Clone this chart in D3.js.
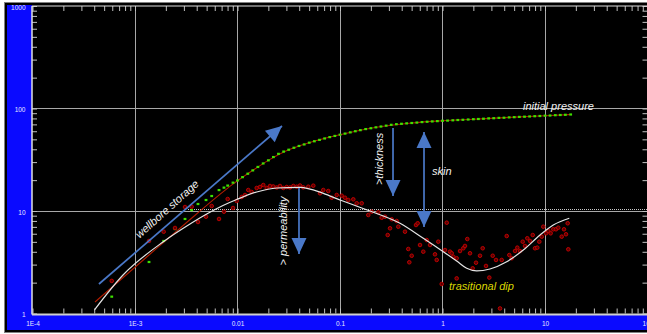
<!DOCTYPE html>
<html>
<head>
<meta charset="utf-8">
<script src="https://cdn.jsdelivr.net/npm/d3@7/dist/d3.min.js"></script>
<style>
  html, body { margin: 0; padding: 0; background: #fff; overflow: hidden; }
  svg { display: block; }
  text { font-family: "Liberation Sans", Arial, sans-serif; }
</style>
</head>
<body>
<svg id="chart" width="647" height="334"></svg>
<script>
// ---- Pressure change (measured points) ----
const pressureTime = [
  5.93e-4, 1.37e-3, 1.905e-3, 2.457e-3, 3.075e-3, 3.573e-3, 4.117e-3, 4.929e-3, 5.60e-3, 6.60e-3, 7.38e-3, 8.02e-3, 9.04e-3,
  0.01, 0.0112, 0.0126, 0.0141, 0.0158, 0.0178, 0.02, 0.0224, 0.0251, 0.0282, 0.0316, 0.0355, 0.0398, 0.0447, 0.0501, 0.0562, 0.0631, 0.0708, 0.0794, 0.0891,
  0.1, 0.112, 0.126, 0.141, 0.158, 0.178, 0.2, 0.224, 0.251, 0.282, 0.316, 0.355, 0.398, 0.447, 0.501, 0.562, 0.631, 0.708, 0.794, 0.891,
  1, 1.12, 1.26, 1.41, 1.58, 1.78, 2, 2.24, 2.51, 2.82, 3.16, 3.55, 3.98, 4.47, 5.01, 5.62, 6.31, 7.08, 7.94, 8.91,
  10, 11.2, 12.6, 14.1, 15.8, 17.8
];
const pressureValue = [
  1.46, 3.18, 5.10, 6.67, 8.36, 10.2, 11.7, 12.8, 14.0, 16.0, 16.9, 17.7, 18.9,
  19.85, 21.4, 23.1, 24.9, 26.9, 29.1, 31.2, 33.6, 36.1, 38.0, 39.6, 41.4, 43.1, 44.6, 46.4, 47.9, 49.4, 51.0, 52.6, 54.0,
  55.5, 56.9, 58.5, 60.0, 61.5, 63.0, 64.2, 65.5, 66.7, 68.0, 69.3, 70.3, 70.9, 71.6, 72.2, 72.9, 73.7, 74.3, 74.8, 75.3,
  75.9, 76.2, 76.7, 77.2, 77.6, 78.1, 78.6, 79.0, 79.5, 80.1, 80.4, 81.0, 81.3, 81.9, 82.3, 82.8, 83.2, 83.6, 84.1, 84.5,
  85.1, 85.4, 86.0, 86.4, 86.8, 87.4
];

// ---- Pressure change (model) ----
const modelPressureTime  = [4.07e-4, 1.37e-3, 3.07e-3, 6.6e-3, 9.03e-3, 0.0141, 0.02, 0.0316, 0.05, 0.1, 0.2, 0.5, 1, 2, 5, 10, 17.8];
const modelPressureValue = [1.295, 3.72, 7.47, 14.3, 18.3, 24.9, 31.2, 39.6, 46.4, 55.5, 64.2, 72.2, 75.9, 78.6, 82.3, 85.1, 87.4];

// ---- Pressure derivative (measured points) ----
const derivTime = [
  5.93e-4, 1.37e-3, 1.905e-3, 2.457e-3, 3.075e-3, 3.573e-3, 4.117e-3, 4.929e-3, 5.60e-3, 6.60e-3, 7.38e-3, 8.02e-3, 9.04e-3, 9.82e-3,
  0.01099, 0.01183, 0.01274, 0.01375, 0.01539, 0.01658, 0.01785, 0.01927, 0.02075, 0.02235, 0.02412, 0.02598, 0.02798, 0.0302, 0.03253, 0.03503, 0.03781, 0.04073, 0.04385, 0.04906, 0.05489,
  0.0638, 0.0687, 0.07688, 0.08299, 0.09286, 0.1039, 0.1119, 0.1205, 0.1348, 0.1455, 0.1628,
  0.1888, 0.2038, 0.2364, 0.2551, 0.2748, 0.292, 0.3076, 0.3194, 0.3573, 0.3705, 0.4306, 0.4637, 0.4743, 0.5006,
  0.5514, 0.5728, 0.6034, 0.6497, 0.7012, 0.7551, 0.8448, 0.878, 0.91, 0.982,
  1.058, 1.099, 1.184, 1.23, 1.275, 1.375, 1.375, 1.482, 1.596, 1.658, 1.746, 1.855, 1.971, 2.123, 2.322, 2.467, 2.657, 2.862, 3.089, 3.327,
  3.639, 3.781, 4.23, 4.485, 4.733, 5.1, 5.37, 5.7, 6.06, 6.38,
  6.72, 7.14, 7.59, 7.99, 8.41, 8.8, 9.29, 9.62, 10.23, 10.77,
  11.36, 12.05, 12.8, 13.48, 14.55, 15.32, 16.03, 16.65, 16.88
];
const derivValue = [
  2.08, 5.10, 6.28, 6.83, 10.94, 11.01, 7.81, 8.80, 11.19, 8.36, 9.84, 13.09, 10.70, 12.52,
  13.70, 14.33, 16.03, 15.32, 16.77, 17.15, 17.93, 16.77, 17.54, 17.35, 16.96, 17.54, 16.77, 17.15, 16.96, 17.54, 17.26, 17.73, 17.0, 17.26, 17.66,
  14.89, 16.03, 15.67, 13.48, 14.33, 14.10, 13.48, 12.80, 13.0, 11.89, 11.89,
  9.14, 9.84, 9.71, 8.60, 8.80, 5.83, 6.78, 8.30, 7.99, 7.03, 6.28, 4.26, 3.16, 3.66,
  7.30, 7.59, 4.66, 4.01, 5.21, 4.66, 3.78, 3.33, 5.02, 1.94,
  4.16, 7.69, 4.01, 3.87, 3.58, 3.46, 2.20, 4.07, 4.33, 4.56, 5.33, 3.87, 2.76, 3.13, 3.66, 4.33, 2.91, 2.24, 3.66, 3.33,
  1.12, 3.33, 5.70, 3.72, 3.46, 4.07, 4.39, 4.07, 5.02, 4.56,
  5.42, 5.10, 5.83, 4.33, 4.39, 5.02, 5.62, 7.03, 6.06, 6.38,
  6.06, 6.63, 6.63, 6.87, 5.62, 6.63, 5.93, 7.59, 4.23
];

// ---- Pressure derivative (model) ----
const modelDerivTime  = [4.01e-4, 7.64e-4, 1.875e-3, 3.44e-3, 5.01e-3, 7.22e-3, 9.82e-3, 0.01539, 0.02412, 0.04074, 0.0687, 0.1, 0.1963, 0.3848, 0.6497, 1.018, 1.375, 1.722, 2.157, 2.907, 4.23, 6.14, 8.94, 12.05, 17.26];
const modelDerivValue = [1.08, 2.375, 4.99, 7.47, 9.35, 11.32, 12.95, 15.32, 16.77, 17.03, 14.88, 12.8, 10.0, 7.59, 5.42, 4.01, 3.25, 2.76, 2.60, 2.72, 3.20, 4.16, 5.83, 7.30, 8.49];

// radial-flow stabilisation level (dotted)
const radialLevel = 10.4;
const radialStart = 3.29e-3;

// axis labels
const xTickLabels = ["1E-4", "1E-3", "0.01", "0.1", "1", "10", "100"];
const yTickLabels = ["1", "10", "100", "1000"];

// annotation arrows [t0, v0, t1, v1] (arrow head at the end point)
const arrowWellbore     = [4.45e-4, 1.94, 0.02716, 67.5];
const arrowPermeability = [0.0398, 16.77, 0.0398, 3.81];
const arrowThickness    = [0.329, 64.5, 0.329, 14.0];
const arrowSkin         = [0.66, 59.0, 0.66, 6.98];

// ---------------------------------------------------------------
const W = 647, H = 334;
const svg = d3.select("#chart");

const x = d3.scaleLog().domain([1e-4, 100]).range([32.5, 647.5]);
const y = d3.scaleLog().domain([1, 1000]).range([313.5, 6]);

// panel background
svg.append("rect").attr("width", W).attr("height", H).attr("fill", "#fff");
svg.append("rect").attr("x", 4.5).attr("y", 2.5).attr("width", W).attr("height", 330)
  .attr("fill", "#000").attr("stroke", "#808080").attr("stroke-width", 1);
svg.append("rect").attr("x", 7).attr("y", 5).attr("width", W).attr("height", 325).attr("fill", "#0a0aff");
svg.append("rect").attr("x", 32).attr("y", 4).attr("width", W).attr("height", 310).attr("fill", "#000");

const plot = svg.append("g");

// decade grid
const xDecades = d3.range(-3, 2).map(e => Math.pow(10, e));
const yDecades = [10, 100];
plot.selectAll("line.gx").data(xDecades).join("line")
  .attr("x1", d => Math.round(x(d)) + 0.5).attr("x2", d => Math.round(x(d)) + 0.5)
  .attr("y1", 6).attr("y2", 314)
  .attr("stroke", "#a8a8a8").attr("stroke-width", 1);
plot.selectAll("line.gy").data(yDecades).join("line")
  .attr("x1", 32).attr("x2", W)
  .attr("y1", d => Math.round(y(d)) + 0.5).attr("y2", d => Math.round(y(d)) + 0.5)
  .attr("stroke", "#a8a8a8").attr("stroke-width", 1);

// dotted stabilisation line
plot.append("line")
  .attr("x1", x(radialStart)).attr("x2", W)
  .attr("y1", Math.round(y(radialLevel)) + 0.5).attr("y2", Math.round(y(radialLevel)) + 0.5)
  .attr("stroke", "#c8c8c8").attr("stroke-width", 1).attr("stroke-dasharray", "1,1");

// tick values: every integer multiple inside each decade
function logTicks(e0, e1) {
  const out = [];
  for (let e = e0; e <= e1; e++) for (let k = 1; k <= 9; k++) {
    if (e === e1 && k > 1) break;
    out.push(k * Math.pow(10, e));
  }
  return out;
}
const xTicks = logTicks(-4, 2);
const yTicks = logTicks(0, 3);
const isDecade = d => Math.abs(Math.log10(d) - Math.round(Math.log10(d))) < 1e-9;

function styleAxis(g) {
  g.select(".domain").remove();
  g.selectAll(".tick line").attr("stroke", "#c0c0c0").attr("stroke-width", 1);
  g.selectAll(".tick text").attr("fill", "#e6e6ff").style("font-size", "6.5px");
}

svg.append("g").attr("transform", "translate(0,313.5)")
  .call(d3.axisBottom(x).tickValues(xTicks).tickSize(-5)
    .tickFormat(d => isDecade(d) ? xTickLabels[Math.round(Math.log10(d)) + 4] : ""))
  .call(styleAxis)
  .call(g => g.selectAll(".tick text").attr("y", 10).attr("dy", "0.35em"));

svg.append("g").attr("transform", "translate(0,6)")
  .call(d3.axisTop(x).tickValues(xTicks).tickSize(-5).tickFormat(""))
  .call(styleAxis);

svg.append("g").attr("transform", "translate(32,0)")
  .call(d3.axisLeft(y).tickValues(yTicks).tickSize(-5)
    .tickFormat(d => isDecade(d) ? yTickLabels[Math.round(Math.log10(d))] : ""))
  .call(styleAxis)
  .call(g => g.selectAll(".tick text").attr("x", -6.5).attr("dy", "0.5em"));

svg.append("g").attr("transform", "translate(647.5,0)")
  .call(d3.axisRight(y).tickValues(yTicks).tickSize(-5).tickFormat(""))
  .call(styleAxis);

// plot frame
svg.append("line").attr("x1", 32).attr("x2", 32).attr("y1", 6).attr("y2", 314.5)
  .attr("stroke", "#e0e0e0").attr("stroke-width", 1.5);
svg.append("line").attr("x1", 32).attr("x2", W).attr("y1", 6).attr("y2", 6)
  .attr("stroke", "#e0e0e0").attr("stroke-width", 1.2);
svg.append("line").attr("x1", 32).attr("x2", W).attr("y1", 314.5).attr("y2", 314.5)
  .attr("stroke", "#cfcfcf").attr("stroke-width", 2);

// ---- data series ----
const modelP = d3.zip(modelPressureTime, modelPressureValue);
const modelD = d3.zip(modelDerivTime, modelDerivValue);
const pts    = d3.zip(pressureTime, pressureValue);
const dpts   = d3.zip(derivTime, derivValue);

const line = d3.line().x(d => x(d[0])).y(d => y(d[1])).curve(d3.curveMonotoneX);

plot.append("path").datum(modelP).attr("d", line)
  .attr("fill", "none").attr("stroke", "#b01c00").attr("stroke-width", 1.1);

plot.selectAll("rect.p").data(pts).join("rect")
  .attr("x", d => x(d[0]) - 1.4).attr("y", d => y(d[1]) - 1.1)
  .attr("width", 2.8).attr("height", 2.2).attr("fill", "#3ee000");

plot.selectAll("circle.d").data(dpts).join("circle")
  .attr("cx", d => x(d[0])).attr("cy", d => y(d[1])).attr("r", 1.8)
  .attr("fill", "#5a0000").attr("stroke", "#c80000").attr("stroke-width", 0.9);

plot.append("path").datum(modelD).attr("d", line)
  .attr("fill", "none").attr("stroke", "#e4e4e4").attr("stroke-width", 1.2);

// ---- annotations ----
const arrowColor = "#4a78c8";
function arrowHead(px0, py0, px1, py1, len, half) {
  const dx = px1 - px0, dy = py1 - py0, L = Math.hypot(dx, dy);
  const ux = dx / L, uy = dy / L, nx = -uy, ny = ux;
  const bx = px1 - ux * len, by = py1 - uy * len;
  return [[px1, py1], [bx + nx * half, by + ny * half], [bx - nx * half, by - ny * half]];
}
function drawArrow(a, both) {
  const p0 = [x(a[0]), y(a[1])], p1 = [x(a[2]), y(a[3])];
  plot.append("line").attr("x1", p0[0]).attr("y1", p0[1]).attr("x2", p1[0]).attr("y2", p1[1])
    .attr("stroke", arrowColor).attr("stroke-width", 1.7);
  plot.append("polygon").attr("points", arrowHead(p0[0], p0[1], p1[0], p1[1], 16, 7.5).join(" "))
    .attr("fill", arrowColor);
  if (both) plot.append("polygon").attr("points", arrowHead(p1[0], p1[1], p0[0], p0[1], 16, 7.5).join(" "))
    .attr("fill", arrowColor);
}
drawArrow(arrowWellbore, false);
drawArrow(arrowPermeability, false);
drawArrow(arrowThickness, false);
drawArrow(arrowSkin, true);

function label(t, v, str, opts) {
  const o = Object.assign({ angle: 0, anchor: "start", color: "#f2f2f2", dy: "0" }, opts);
  plot.append("text")
    .attr("transform", `translate(${x(t)},${y(v)}) rotate(${o.angle})`)
    .attr("text-anchor", o.anchor).attr("dy", o.dy)
    .attr("fill", o.color).attr("font-style", "italic").style("font-size", "11px")
    .text(str);
}
label(2.05e-3, 10.46, "wellbore storage", { angle: -42, anchor: "middle", dy: "0.35em" });
label(0.0278, 6.38, "> permeability", { angle: -90, anchor: "middle", dy: "0.35em" });
label(0.24, 32.2, ">thickness", { angle: -90, anchor: "middle", dy: "0.35em" });
label(0.79, 22.4, "skin");
label(6.10, 96.7, "initial pressure");
label(1.157, 1.70, "trasitional dip", { color: "#dcd800" });
</script>
</body>
</html>
